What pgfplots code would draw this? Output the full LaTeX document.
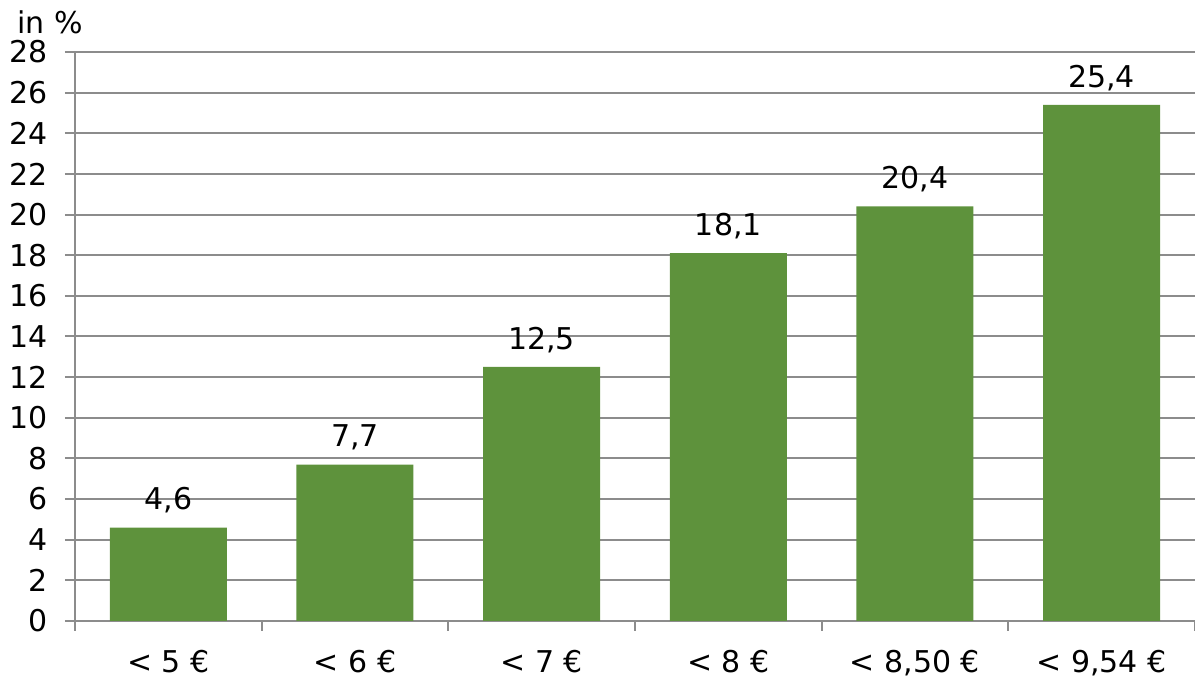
\documentclass[border=0pt]{standalone}
\usepackage{pgfplots}
\pgfplotsset{compat=1.18}
\usepackage{fontspec}
\setmainfont{DejaVu Sans}
\definecolor{bargreen}{HTML}{5E923C}
\definecolor{gridgray}{HTML}{8C8C8C}
\begin{document}
\begin{tikzpicture}
\begin{axis}[
  scale only axis,
  width=560pt, height=284.5pt,
  xmin=-0.5, xmax=5.5,
  ymin=0, ymax=28,
  ytick={0,2,...,28},
  xtick={0,1,2,3,4,5},
  xticklabels={{< 5 €},{< 6 €},{< 7 €},{< 8 €},{< 8,50 €},{< 9,54 €}},
  minor xtick={-0.5,0.5,...,5.5},
  major x tick style={draw=none},
  minor x tick style={draw=gridgray, line width=1pt},
  y tick style={draw=gridgray, line width=1pt},
  tick align=outside,
  major tick length=5pt, minor tick length=5pt,
  axis x line*=bottom, axis y line*=left,
  axis line style={draw=gridgray, line width=1pt, -},
  ymajorgrids,
  grid style={draw=gridgray, line width=1pt},
  tick label style={font=\fontsize{15}{18}\selectfont},
  yticklabel style={xshift=-5pt},
  xticklabel style={yshift=-6pt},
  /pgf/number format/assume math mode=true,
  ybar, bar width=58.5pt,
  nodes near coords,
  every node near coord/.append style={font=\fontsize{15}{18}\selectfont, black, yshift=3.5pt},
  nodes near coords style={/pgf/number format/.cd, use comma, fixed, fixed zerofill, precision=1},
  clip=false,
]
\addplot[fill=bargreen, draw=none] coordinates {(0,4.6) (1,7.7) (2,12.5) (3,18.1) (4,20.4) (5,25.4)};
\coordinate (O) at (rel axis cs:0,0);
\node[font=\fontsize{15}{18}\selectfont, anchor=center] at ([xshift=-12.5pt,yshift=15pt]rel axis cs:0,1) {in \%};
\end{axis}
\pgfresetboundingbox
\path[use as bounding box] ([xshift=-37.5pt,yshift=-29.5pt]O) rectangle ++(597.5pt,340pt);
\end{tikzpicture}
\end{document}
